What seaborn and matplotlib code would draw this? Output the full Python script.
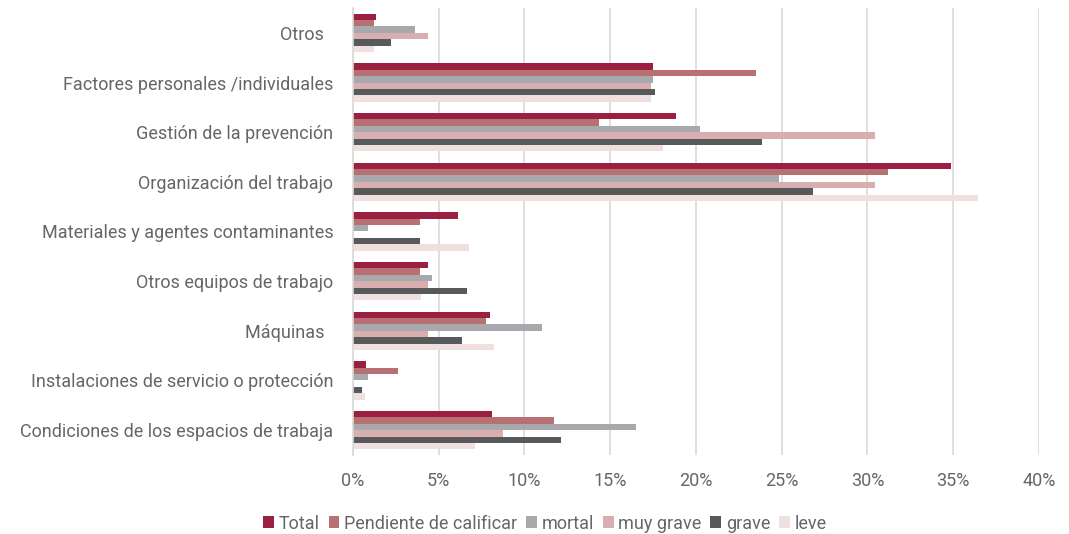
import matplotlib
matplotlib.use("Agg")
import matplotlib.pyplot as plt
import matplotlib.ticker as mticker
import seaborn as sns
import pandas as pd

categories = [
    "Otros  ",
    "Factores personales /individuales",
    "Gestión de la prevención",
    "Organización del trabajo",
    "Materiales y agentes contaminantes",
    "Otros equipos de trabajo",
    "Máquinas  ",
    "Instalaciones de servicio o protección",
    "Condiciones de los espacios de trabaja",
]
series = ["Total", "Pendiente de calificar", "mortal", "muy grave", "grave", "leve"]

total = [1.37, 17.5, 18.84, 34.85, 6.13, 4.38, 8.0, 0.76, 8.13]
pendiente = [1.25, 23.5, 14.33, 31.2, 3.89, 3.89, 7.75, 2.64, 11.74]
mortal = [3.63, 17.5, 20.22, 24.85, 0.88, 4.63, 11.0, 0.88, 16.5]
muy_grave = [4.38, 17.38, 30.45, 30.45, 0.0, 4.38, 4.38, 0.0, 8.75]
grave = [2.25, 17.63, 23.84, 26.85, 3.89, 6.64, 6.39, 0.51, 12.13]
leve = [1.25, 17.38, 18.1, 36.45, 6.76, 4.0, 8.26, 0.74, 7.13]

colors = ["#9B1F40", "#B87172", "#A8A9AD", "#D8AEAE", "#58595B", "#EFE0DF"]

values = [total, pendiente, mortal, muy_grave, grave, leve]
rows = []
for s, vals in zip(series, values):
    for c, v in zip(categories, vals):
        rows.append({"categoria": c, "serie": s, "valor": v})
df = pd.DataFrame(rows)

sns.set_style("white")
plt.rcParams["font.family"] = ["Roboto", "DejaVu Sans"]

fig, ax = plt.subplots(figsize=(10.69, 5.34), dpi=100)
fig.subplots_adjust(left=0.330, right=0.972, top=0.985, bottom=0.148)

sns.barplot(data=df, y="categoria", x="valor", hue="serie", order=categories,
            hue_order=series, palette=colors, orient="h", width=0.77,
            saturation=1, linewidth=0, ax=ax)

ax.set_xlim(0, 40)
ax.xaxis.set_major_locator(mticker.MultipleLocator(5))
ax.xaxis.set_major_formatter(mticker.FuncFormatter(lambda v, p: f"{int(v)}%"))
ax.grid(axis="x", color="#D9D9D9", linewidth=1.2)
ax.set_axisbelow(True)
for sp in ["top", "right", "bottom"]:
    ax.spines[sp].set_visible(False)
ax.spines["left"].set_color("#D9D9D9")
ax.spines["left"].set_linewidth(1.2)
ax.set_xlabel("")
ax.set_ylabel("")
ax.tick_params(axis="y", length=0, pad=14, labelsize=13, labelcolor="#666666")
ax.tick_params(axis="x", length=0, pad=12, labelsize=13, labelcolor="#666666")

ax.legend(loc="upper center", bbox_to_anchor=(0.28, -0.097), ncol=6, frameon=False,
          fontsize=13, labelcolor="#666666", handlelength=0.6, handleheight=0.6,
          handletextpad=0.25, columnspacing=0.5)

plt.savefig("out.png", dpi=100)
